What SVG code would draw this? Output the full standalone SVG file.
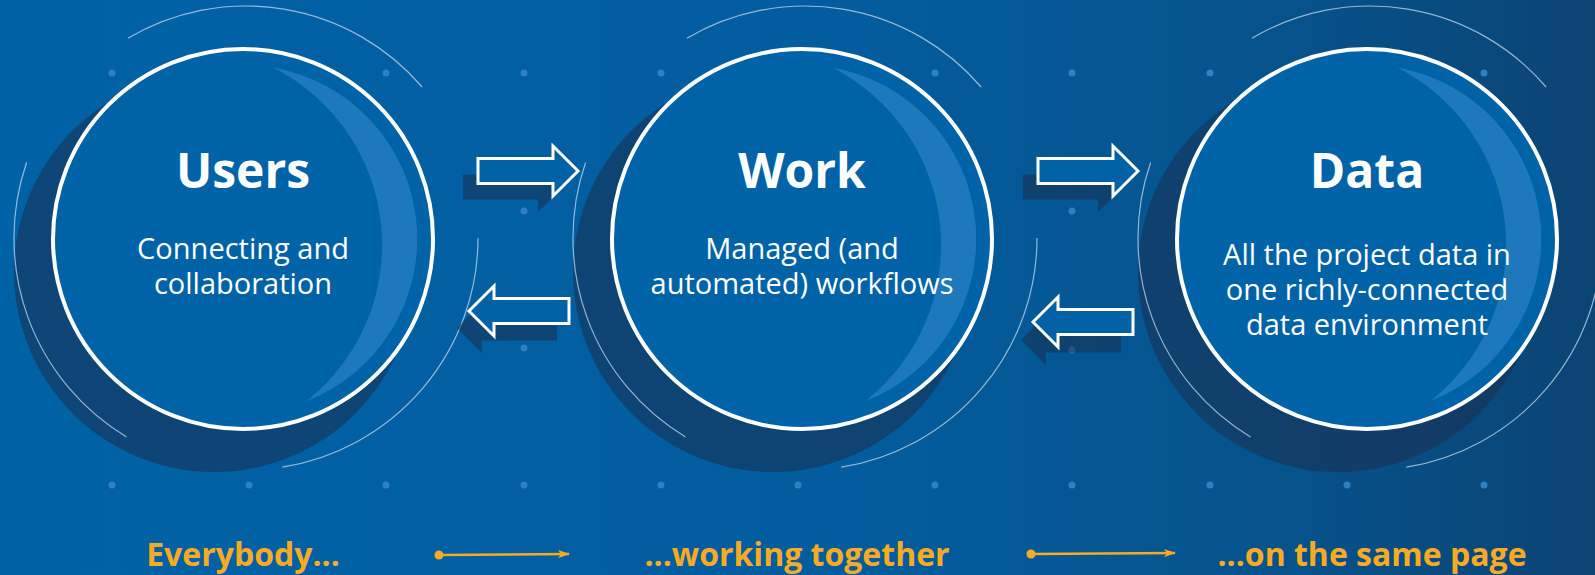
<svg xmlns="http://www.w3.org/2000/svg" width="1595" height="575" viewBox="0 0 1595 575">
<defs>
<linearGradient id="bg" x1="0" y1="0" x2="1" y2="0">
<stop offset="0" stop-color="#0062a6"/>
<stop offset="0.5" stop-color="#025d9f"/>
<stop offset="0.8" stop-color="#06538c"/>
<stop offset="1" stop-color="#0b4473"/>
</linearGradient>
<marker id="oarrow" viewBox="0 0 12 8" refX="11" refY="4" markerWidth="12" markerHeight="8" markerUnits="userSpaceOnUse" orient="auto">
<path d="M0,0 L12,4 L0,8 L3,4 Z" fill="#f7ab24"/>
</marker>
<path id="rarrow" d="M0,12.5 H75 V0 L100,25 L75,50 V37.5 H0 Z"/>
<path id="larrow" d="M100,12.5 H25 V0 L0,25 L25,50 V37.5 H100 Z"/>
</defs>
<style>
.ring{fill:none;stroke:#cfe3f5;stroke-opacity:0.7;stroke-width:1.2}
.shadow{fill:#1a3050;fill-opacity:0.55}
.disc{fill:#0063a8;stroke:#ffffff;stroke-width:4}
.cres{fill:#3a8fd0;fill-opacity:0.5}
.title{font-family:"Open Sans","Liberation Sans",sans-serif;font-weight:700;font-size:48px;fill:#ffffff;text-anchor:middle}
.sub{font-family:"Open Sans","Liberation Sans",sans-serif;font-weight:400;font-size:29px;fill:#ffffff;text-anchor:middle}
.label{font-family:"Open Sans","Liberation Sans",sans-serif;font-weight:700;font-size:32px;fill:#f7ab24;text-anchor:middle}
.dot{fill:#2f80c3}
.barrow{fill:#0262a5;stroke:#ffffff;stroke-width:3;stroke-linejoin:miter}
.bshadow{fill:#1a3050;fill-opacity:0.55}
.oline{stroke:#f7ab24;stroke-width:2.5;fill:none}
</style>
<rect x="0" y="0" width="1595" height="575" fill="url(#bg)"/>
<g id="dots">
<circle class="dot" cx="112" cy="73" r="3.5"/><circle class="dot" cx="249" cy="73" r="3.5"/><circle class="dot" cx="386" cy="73" r="3.5"/><circle class="dot" cx="524" cy="73" r="3.5"/><circle class="dot" cx="661" cy="73" r="3.5"/><circle class="dot" cx="798" cy="73" r="3.5"/><circle class="dot" cx="935" cy="73" r="3.5"/><circle class="dot" cx="1072" cy="73" r="3.5"/><circle class="dot" cx="1210" cy="73" r="3.5"/><circle class="dot" cx="1347" cy="73" r="3.5"/><circle class="dot" cx="1484" cy="73" r="3.5"/>
<circle class="dot" cx="524" cy="211" r="3.5"/><circle class="dot" cx="1072" cy="211" r="3.5"/>
<circle class="dot" cx="524" cy="348" r="3.5"/><circle class="dot" cx="1072" cy="350" r="3.5"/>
<circle class="dot" cx="112" cy="485" r="3.5"/><circle class="dot" cx="249" cy="485" r="3.5"/><circle class="dot" cx="386" cy="485" r="3.5"/><circle class="dot" cx="524" cy="485" r="3.5"/><circle class="dot" cx="661" cy="485" r="3.5"/><circle class="dot" cx="798" cy="485" r="3.5"/><circle class="dot" cx="935" cy="485" r="3.5"/><circle class="dot" cx="1072" cy="485" r="3.5"/><circle class="dot" cx="1210" cy="485" r="3.5"/><circle class="dot" cx="1347" cy="485" r="3.5"/><circle class="dot" cx="1484" cy="485" r="3.5"/>
</g>
<g id="users" transform="translate(243,239)">
<circle class="shadow" cx="-29" cy="33" r="200"/>
<path class="ring" d="M -115.1 -200.7 A 232 232 0 0 1 179.1 -152"/>
<path class="ring" d="M 235 -1 A 232 232 0 0 1 39.3 228.1"/>
<path class="ring" d="M -116.5 197.9 A 232 232 0 0 1 -216.4 -76.5"/>
<circle class="disc" cx="0" cy="0" r="190"/>
<path class="cres" d="M 30.3 -171.4 A 174 174 0 0 1 63.7 162 A 199 199 0 0 0 30.3 -171.4 Z"/>
<text class="title" x="0" y="-51">Users</text>
<text class="sub" x="0" y="20">Connecting and</text>
<text class="sub" x="0" y="55">collaboration</text>
</g>
<g id="work" transform="translate(802,239)">
<circle class="shadow" cx="-29" cy="33" r="200"/>
<path class="ring" d="M -115.1 -200.7 A 232 232 0 0 1 179.1 -152"/>
<path class="ring" d="M 235 -1 A 232 232 0 0 1 39.3 228.1"/>
<path class="ring" d="M -116.5 197.9 A 232 232 0 0 1 -216.4 -76.5"/>
<circle class="disc" cx="0" cy="0" r="190"/>
<path class="cres" d="M 30.3 -171.4 A 174 174 0 0 1 63.7 162 A 199 199 0 0 0 30.3 -171.4 Z"/>
<text class="title" x="0" y="-51">Work</text>
<text class="sub" x="0" y="20">Managed (and</text>
<text class="sub" x="0" y="55">automated) workflows</text>
</g>
<g id="data" transform="translate(1367,239)">
<circle class="shadow" cx="-29" cy="33" r="200"/>
<path class="ring" d="M -115.1 -200.7 A 232 232 0 0 1 179.1 -152"/>
<path class="ring" d="M 235 -1 A 232 232 0 0 1 39.3 228.1"/>
<path class="ring" d="M -116.5 197.9 A 232 232 0 0 1 -216.4 -76.5"/>
<circle class="disc" cx="0" cy="0" r="190"/>
<path class="cres" d="M 30.3 -171.4 A 174 174 0 0 1 63.7 162 A 199 199 0 0 0 30.3 -171.4 Z"/>
<text class="title" x="0" y="-51">Data</text>
<text class="sub" x="0" y="26">All the project data in</text>
<text class="sub" x="0" y="61">one richly-connected</text>
<text class="sub" x="0" y="96">data environment</text>
</g>
<g id="connectors">
<use href="#rarrow" class="bshadow" transform="translate(463,162)"/>
<use href="#rarrow" class="barrow" transform="translate(478,146)"/>
<use href="#larrow" class="bshadow" transform="translate(457,303)"/>
<use href="#larrow" class="barrow" transform="translate(469,286)"/>
<use href="#rarrow" class="bshadow" transform="translate(1023,162)"/>
<use href="#rarrow" class="barrow" transform="translate(1038,146)"/>
<use href="#larrow" class="bshadow" transform="translate(1021,315)"/>
<use href="#larrow" class="barrow" transform="translate(1033,297)"/>
<g id="flow">
<circle cx="439" cy="555" r="4.5" fill="#f7ab24"/>
<line class="oline" x1="439" y1="555" x2="569" y2="554" marker-end="url(#oarrow)"/>
<circle cx="1031" cy="554" r="4.5" fill="#f7ab24"/>
<line class="oline" x1="1031" y1="554" x2="1175" y2="553" marker-end="url(#oarrow)"/>
</g>
</g>
<g id="labels">
<text class="label" x="243" y="566">Everybody...</text>
<text class="label" x="797" y="566">...working together</text>
<text class="label" x="1372" y="566">...on the same page</text>
</g>
</svg>
